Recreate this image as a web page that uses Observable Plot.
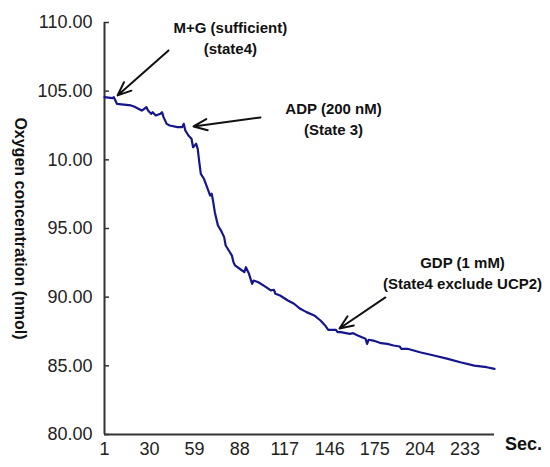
<!DOCTYPE html>
<html><head><meta charset="utf-8">
<script src="https://cdn.jsdelivr.net/npm/d3@7"></script>
<script src="https://cdn.jsdelivr.net/npm/@observablehq/plot@0.6"></script>
<style>body{margin:0;background:#fff} #chart svg{display:block}</style>
</head><body><div id="chart"></div>
<script>
// Time (sec) and oxygen concentration (nmol)
const seconds = [1,6,7,9,18,20,25,28,29,31,32,34,37,38,39,41,43,48,51,52,53,55,57,58,60,61,62,63,65,67,69,70,71,72,74,76,78,79,81,83,84,85,88,91,92,94,96,97,100,105,108,110,111,114,119,123,127,131,136,140,143,145,150,151,153,159,161,164,169,170,171,174,179,183,187,191,192,196,204,213,222,230,239,247,252];
const oxygen  = [104.56,104.49,104.56,104.08,103.96,103.88,103.59,103.83,103.59,103.35,103.47,103.23,103.35,103.47,103.11,102.62,102.50,102.38,102.38,102.62,102.14,101.77,101.53,100.92,101.17,100.80,99.83,98.98,98.62,98.01,97.40,97.53,96.92,96.19,95.22,94.85,94.37,93.76,93.40,93.03,92.55,92.31,92.07,91.82,92.18,91.70,90.97,91.21,91.09,90.73,90.49,90.54,90.25,90.12,89.76,89.52,89.15,88.91,88.67,88.30,87.94,87.62,87.62,87.45,87.45,87.33,87.38,87.21,86.97,86.60,86.90,86.84,86.65,86.60,86.48,86.41,86.24,86.24,85.99,85.75,85.51,85.26,85.02,84.90,84.78];

const xTicks = [1,30,59,88,117,146,175,204,233];
const yTicks = [80,85,90,95,100,105,110];
const yTickLabels = ["80.00","85.00","90.00","95.00","10.00","105.00","110.00"];
const xUnit = "Sec.";
const yTitle = "Oxygen concentration (nmol)";

// Annotations (data units)
const noteText = ["M+G (sufficient)\n(state4)", "ADP (200 nM)\n(State 3)", "GDP (1 mM)\n(State4 exclude UCP2)"];
const noteX = [82, 148.4, 231.4];
const noteY = [108.95, 103.09, 91.87];
const arrowFromX = [42.2, 101.4, 181.8];
const arrowFromY = [107.97, 103.09, 89.98];
const arrowToX = [9.4, 58.3, 152.2];
const arrowToY = [104.69, 102.43, 87.72];

const trace = seconds.map((s, i) => ({s, o: oxygen[i]}));
const notes = noteText.map((t, i) => ({t, x: noteX[i], y: noteY[i], x1: arrowFromX[i], y1: arrowFromY[i], x2: arrowToX[i], y2: arrowToY[i]}));
const yLabelMap = new Map(yTicks.map((v, i) => [v, yTickLabels[i]]));

const chart = Plot.plot({
  width: 550,
  height: 467,
  marginLeft: 104,
  marginRight: 56,
  marginTop: 22,
  marginBottom: 33,
  style: {fontFamily: "'Liberation Sans', Arial, sans-serif", fontSize: "18px", color: "#222", background: "#fff"},
  x: {domain: [1, 252]},
  y: {domain: [80, 110]},
  marks: [
    Plot.axisY({ticks: yTicks, tickSize: 5, dx: 5, fill: "none", stroke: "#333", strokeWidth: 1.5, label: null}),
    Plot.axisY({ticks: yTicks, tickSize: 0, tickPadding: 12, tickFormat: d => yLabelMap.get(d), label: null, fill: "#222"}),
    Plot.axisX({ticks: xTicks, tickSize: 0, tickPadding: 8, tickFormat: d => String(d), label: null, fill: "#222"}),
    Plot.ruleX([1], {stroke: "#333", strokeWidth: 2}),
    Plot.ruleY([80], {stroke: "#333", strokeWidth: 2}),
    Plot.line(trace, {x: "s", y: "o", stroke: "#16168c", strokeWidth: 2.2, curve: "linear"}),
    Plot.arrow(notes, {x1: "x1", y1: "y1", x2: "x2", y2: "y2", stroke: "#111", strokeWidth: 2, headLength: 11, headAngle: 45}),
    Plot.text(notes, {x: "x", y: "y", text: "t", fontSize: 15, fontWeight: "bold", lineHeight: 1.4, fill: "#111", textAnchor: "middle"}),
    Plot.text([xUnit], {frameAnchor: "bottom-right", dx: 29, dy: 15, textAnchor: "middle", fontWeight: "bold", fontSize: 18, fill: "#111"}),
    Plot.text([yTitle], {frameAnchor: "left", dx: -84, rotate: 90, textAnchor: "middle", fontWeight: "bold", fontSize: 16, fill: "#111"})
  ]
});
document.getElementById("chart").appendChild(chart);
</script>
</body></html>
